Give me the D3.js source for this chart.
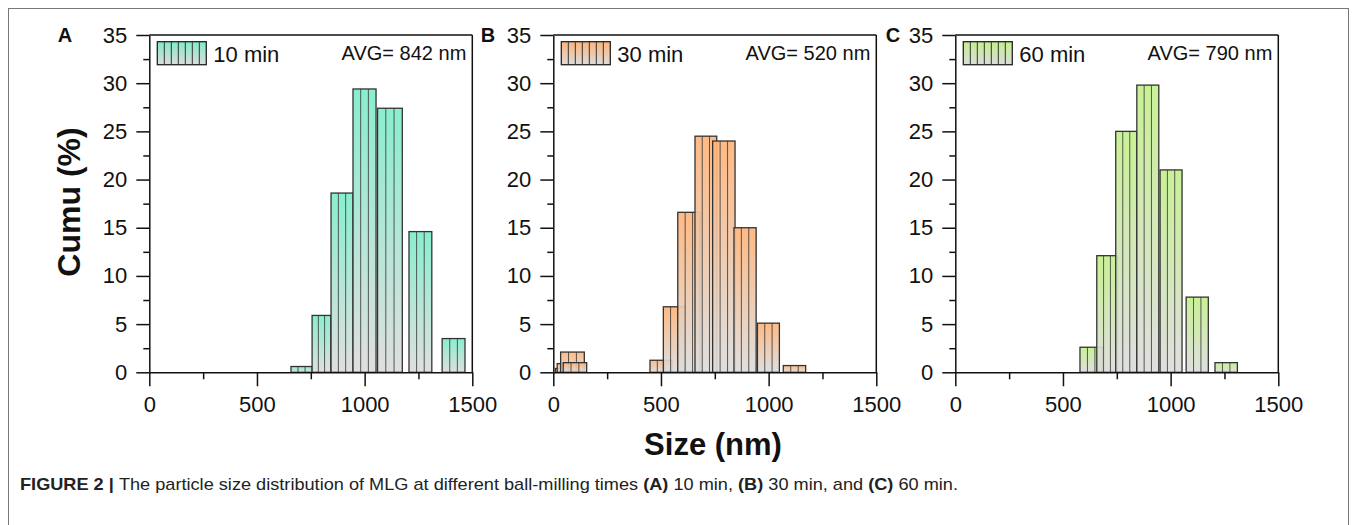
<!DOCTYPE html>
<html>
<head>
<meta charset="utf-8">
<script src="https://cdn.jsdelivr.net/npm/d3@7"></script>
<style>
  body { margin: 0; background: #fff; }
  svg { font-family: "Liberation Sans", Arial, sans-serif; }
</style>
</head>
<body>
<div id="chart"></div>
<script>
// Data
const yTicks = [0, 5, 10, 15, 20, 25, 30, 35]
const yMinorTicks = [2.5, 7.5, 12.5, 17.5, 22.5, 27.5, 32.5]
const xTicks = [0, 500, 1000, 1500]
const xMinorTicks = [250, 750, 1250]

const panelLabels = ['A', 'B', 'C']
const legendLabels = ['10 min', '30 min', '60 min']
const avgLabels = ['AVG= 842 nm', 'AVG= 520 nm', 'AVG= 790 nm']

// 10 min
const binStart10 = [658, 756, 844, 946, 1060, 1206, 1360]
const binEnd10 = [756, 843, 946, 1053, 1175, 1312, 1466]
const cumu10 = [0.6, 5.9, 18.6, 29.4, 27.4, 14.6, 3.5]

// 30 min
const binStart30 = [10, 18, 34, 46, 449, 511, 578, 658, 740, 839, 948, 1068]
const binEnd30 = [40, 48, 144, 155, 551, 612, 681, 759, 844, 942, 1050, 1172]
const cumu30 = [0.4, 0.9, 2.1, 1.0, 1.25, 6.8, 16.6, 24.5, 24.0, 15.0, 5.1, 0.7]

// 60 min
const binStart60 = [579, 657, 745, 843, 951, 1072, 1206]
const binEnd60 = [683, 752, 843, 945, 1053, 1175, 1310]
const cumu60 = [2.6, 12.1, 25.0, 29.8, 21.0, 7.8, 1.0]

const topColors = ['#80eccb', '#ffb47a', '#c4f08c']

const series = [
  { starts: binStart10, ends: binEnd10, values: cumu10 },
  { starts: binStart30, ends: binEnd30, values: cumu30 },
  { starts: binStart60, ends: binEnd60, values: cumu60 },
]

// Dimensions
const dimensions = {
  width: 1357,
  height: 525,
  top: 35,
  plotHeight: 337.3,
  plotWidth: 323,
}
const panelLefts = [149.3, 553.3, 955.3]
const panelLabelX = [65, 488, 893]

const svg = d3.select('#chart')
  .append('svg')
  .attr('width', dimensions.width)
  .attr('height', dimensions.height)

// outer figure frame
svg.append('rect')
  .attr('x', 8.5)
  .attr('y', 8.5)
  .attr('width', 1340)
  .attr('height', 530)
  .attr('fill', 'none')
  .attr('stroke', '#777')
  .attr('stroke-width', 1)

const defs = svg.append('defs')
topColors.forEach((c, i) => {
  const grad = defs.append('linearGradient')
    .attr('id', `grad${i}`)
    .attr('x1', 0).attr('y1', 0)
    .attr('x2', 0).attr('y2', 1)
  grad.append('stop').attr('offset', '0%').attr('stop-color', c)
  grad.append('stop').attr('offset', '100%').attr('stop-color', '#dcdcdc')
})

// Scales
const xScale = d3.scaleLinear()
  .domain([0, 1500])
  .range([0, dimensions.plotWidth])

const yScale = d3.scaleLinear()
  .domain([0, 35])
  .range([dimensions.plotHeight, 0])

series.forEach((s, i) => {
  const ctr = svg.append('g')
    .attr('transform', `translate(${panelLefts[i]}, ${dimensions.top})`)

  // Bars
  const bars = ctr.append('g')
  s.values.forEach((v, j) => {
    const x0 = xScale(s.starts[j])
    const x1 = xScale(s.ends[j])
    const y = yScale(v)
    const h = yScale(0) - y
    bars.append('rect')
      .attr('x', x0)
      .attr('y', y)
      .attr('width', x1 - x0)
      .attr('height', h)
      .attr('fill', `url(#grad${i})`)
      .attr('fill-opacity', 0.92)
      .attr('stroke', '#333')
      .attr('stroke-width', 1.3)
    // vertical hatch lines inside each bar
    const w = x1 - x0
    const n = Math.max(1, Math.round(w / 7.3))
    for (let k = 1; k < n; k++) {
      bars.append('line')
        .attr('x1', x0 + (w * k) / n)
        .attr('x2', x0 + (w * k) / n)
        .attr('y1', y)
        .attr('y2', y + h)
        .attr('stroke', '#333')
        .attr('stroke-opacity', 0.8)
        .attr('stroke-width', 1)
    }
  })

  // Frame top + right
  ctr.append('line')
    .attr('x1', 0).attr('x2', dimensions.plotWidth)
    .attr('y1', 0).attr('y2', 0)
    .attr('stroke', '#111').attr('stroke-width', 1.5)
  ctr.append('line')
    .attr('x1', dimensions.plotWidth).attr('x2', dimensions.plotWidth)
    .attr('y1', 0).attr('y2', dimensions.plotHeight)
    .attr('stroke', '#111').attr('stroke-width', 1.5)

  // Y axis
  const yAxis = d3.axisLeft(yScale)
    .tickValues(yTicks)
    .tickSize(13)
    .tickSizeOuter(0)
    .tickPadding(9)
    .tickFormat(d3.format('d'))
  const yAxisGroup = ctr.append('g').call(yAxis)
  yAxisGroup.append('g')
    .call(d3.axisLeft(yScale).tickValues(yMinorTicks).tickSize(6).tickFormat(''))
    .select('.domain').remove()

  // X axis
  const xAxis = d3.axisBottom(xScale)
    .tickValues(xTicks)
    .tickSize(14)
    .tickSizeOuter(0)
    .tickPadding(10)
    .tickFormat(d3.format('d'))
  const xAxisGroup = ctr.append('g')
    .attr('transform', `translate(0, ${dimensions.plotHeight})`)
    .call(xAxis)
  xAxisGroup.append('g')
    .call(d3.axisBottom(xScale).tickValues(xMinorTicks).tickSize(7).tickFormat(''))
    .select('.domain').remove()

  ctr.selectAll('.domain, .tick line')
    .attr('stroke', '#111')
    .attr('stroke-width', 1.5)
  ctr.selectAll('.tick text')
    .attr('fill', '#111')
    .style('font-size', '22px')

  // Legend
  const lg = ctr.append('g').attr('transform', 'translate(8, 6.7)')
  lg.append('rect')
    .attr('width', 49)
    .attr('height', 23)
    .attr('fill', `url(#grad${i})`)
    .attr('stroke', '#222')
    .attr('stroke-width', 1.3)
  for (let k = 1; k < 7; k++) {
    lg.append('line')
      .attr('x1', (49 * k) / 7).attr('x2', (49 * k) / 7)
      .attr('y1', 0).attr('y2', 23)
      .attr('stroke', '#333')
      .attr('stroke-width', 1)
  }
  lg.append('text')
    .attr('x', 56)
    .attr('y', 20)
    .attr('fill', '#111')
    .style('font-size', '22px')
    .text(legendLabels[i])

  ctr.append('text')
    .attr('x', dimensions.plotWidth - 6)
    .attr('y', 25)
    .attr('text-anchor', 'end')
    .attr('fill', '#111')
    .style('font-size', '20px')
    .text(avgLabels[i])

  svg.append('text')
    .attr('x', panelLabelX[i])
    .attr('y', 42)
    .attr('text-anchor', 'middle')
    .attr('fill', '#111')
    .style('font-size', '20px')
    .style('font-weight', 'bold')
    .text(panelLabels[i])
})

// Axis titles
svg.append('text')
  .attr('transform', 'translate(80, 202) rotate(-90)')
  .attr('text-anchor', 'middle')
  .attr('fill', '#111')
  .style('font-size', '32px')
  .style('font-weight', 'bold')
  .text('Cumu (%)')

svg.append('text')
  .attr('x', 713)
  .attr('y', 455)
  .attr('text-anchor', 'middle')
  .attr('fill', '#111')
  .style('font-size', '31px')
  .style('font-weight', 'bold')
  .text('Size (nm)')

// Caption
const caption = svg.append('text')
  .attr('x', 20)
  .attr('y', 490)
  .attr('fill', '#222')
  .attr('textLength', 938)
  .attr('lengthAdjust', 'spacingAndGlyphs')
  .style('font-size', '17px')
caption.append('tspan').style('font-weight', 'bold').text('FIGURE 2 | ')
caption.append('tspan').text('The particle size distribution of MLG at different ball-milling times ')
caption.append('tspan').style('font-weight', 'bold').text('(A)')
caption.append('tspan').text(' 10 min, ')
caption.append('tspan').style('font-weight', 'bold').text('(B)')
caption.append('tspan').text(' 30 min, and ')
caption.append('tspan').style('font-weight', 'bold').text('(C)')
caption.append('tspan').text(' 60 min.')
</script>
</body>
</html>
